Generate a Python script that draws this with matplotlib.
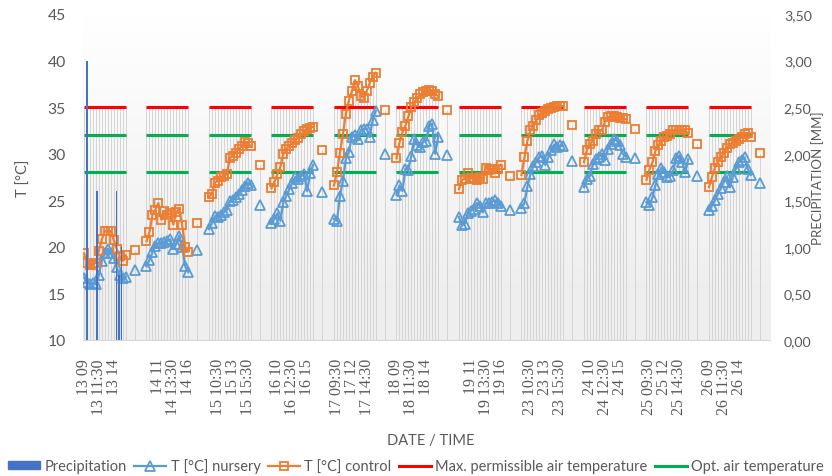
import numpy as np
import matplotlib
matplotlib.use("Agg")
import matplotlib.pyplot as plt
from matplotlib.patches import Patch
from matplotlib.lines import Line2D

plt.rcParams['font.family'] = ['Lato', 'DejaVu Sans']

# ---------------- data ----------------
days = [13, 14, 15, 16, 17, 18, 19, 23, 24, 25, 26]
start_hour = 9.0          # first reading of each day 09:00
step_hours = 0.5          # readings every 30 min
n_readings = 15           # 09:00 .. 16:00
slots_per_day = 21        # category slots per day on the axis
extra_slot = 17           # slot of the separate (unconnected) reading

nursery = [
    [16.7, 16.2, 16.0, 16.1, 16.0, 17.0, 18.5, 19.3, 19.8, 19.3, 18.8, 17.8, 17.0, 16.7, 16.8],
    [17.9, 18.6, 19.4, 20.1, 20.4, 20.4, 20.5, 20.6, 20.8, 19.8, 20.3, 21.2, 20.0, 17.9, 17.3],
    [21.9, 22.6, 23.3, 23.2, 23.4, 23.7, 24.0, 24.9, 25.0, 25.3, 25.7, 26.1, 26.5, 26.9, 26.6],
    [22.6, 23.0, 23.6, 22.8, 24.8, 25.5, 26.2, 26.9, 27.5, 27.3, 27.6, 27.8, 26.0, 27.9, 28.8],
    [23.0, 22.8, 25.5, 27.1, 29.5, 30.2, 31.8, 32.0, 31.6, 32.5, 32.6, 32.7, 31.8, 33.6, 34.6],
    [25.6, 26.6, 26.0, 28.4, 28.3, 29.8, 31.6, 30.9, 30.7, 31.3, 31.4, 33.0, 33.2, 30.0, 31.8],
    [23.2, 22.3, 22.5, 23.6, 23.9, 24.1, 24.7, 24.4, 23.7, 24.7, 24.7, 24.8, 25.0, 24.7, 24.4],
    [24.2, 24.7, 26.5, 27.8, 28.7, 29.1, 29.6, 29.8, 28.8, 29.6, 30.4, 31.0, 30.7, 30.9, 30.8],
    [26.4, 27.3, 27.6, 28.9, 29.4, 29.7, 30.0, 29.3, 30.5, 31.0, 31.6, 31.4, 30.9, 30.0, 29.7],
    [24.8, 24.5, 25.3, 26.6, 27.8, 28.5, 28.0, 27.5, 27.6, 28.2, 29.5, 29.8, 29.1, 28.0, 29.4],
    [24.0, 24.4, 25.0, 25.7, 26.3, 27.0, 27.6, 26.4, 27.5, 28.4, 29.1, 29.3, 29.6, 28.4, 27.7],
]
nursery_extra = [17.5, 19.7, 24.5, 25.9, 30.0, 29.9, 24.0, 29.2, 29.5, 27.6, 26.9]

control = [
    [19.3, 18.3, 18.1, 18.1, 18.3, 19.6, 20.8, 21.7, 21.7, 21.7, 20.7, 19.8, 19.0, 18.5, 19.1],
    [20.6, 21.6, 23.4, 24.0, 24.7, 22.9, 23.8, 23.4, 23.6, 22.4, 23.7, 24.1, 22.3, 20.0, 19.5],
    [25.4, 25.7, 26.9, 27.1, 27.5, 27.6, 27.8, 29.5, 29.8, 30.1, 30.5, 30.8, 31.3, 31.2, 30.8],
    [26.3, 27.0, 27.8, 28.6, 30.0, 30.5, 30.8, 31.2, 31.5, 31.7, 32.1, 32.4, 32.6, 32.8, 32.9],
    [26.6, 28.0, 30.1, 32.1, 34.3, 35.7, 36.7, 37.9, 37.3, 36.2, 36.0, 36.7, 37.6, 38.2, 38.7],
    [29.5, 31.2, 32.3, 33.0, 34.0, 35.0, 35.5, 36.0, 36.4, 36.6, 36.7, 36.8, 36.7, 36.4, 36.2],
    [26.2, 27.2, 27.3, 27.9, 27.4, 27.3, 27.2, 27.5, 27.3, 28.5, 28.3, 28.4, 27.9, 28.4, 28.8],
    [27.7, 29.6, 31.4, 32.5, 33.0, 33.6, 34.2, 34.4, 34.6, 34.8, 34.9, 35.0, 35.1, 35.1, 35.1],
    [29.1, 30.4, 31.0, 31.4, 32.1, 32.5, 32.5, 33.4, 33.9, 34.0, 34.0, 33.9, 33.8, 33.8, 33.7],
    [27.2, 28.3, 29.1, 30.3, 30.9, 31.4, 31.8, 31.9, 32.1, 32.5, 32.5, 32.5, 32.5, 32.5, 32.2],
    [26.4, 27.5, 28.5, 29.1, 29.6, 30.1, 30.6, 31.0, 31.2, 31.4, 31.6, 31.8, 32.1, 32.2, 31.8],
]
control_extra = [19.7, 22.6, 28.8, 30.4, 34.7, 34.7, 27.6, 33.1, 32.6, 31.0, 30.1]

max_temp = 35.0
opt_low = 28.0
opt_high = 32.0

precip_times = ['13 09:30', '13 11:10', '13 14:30', '13 14:50', '13 15:00', '13 15:20']
precip_mm = [3.0, 1.6, 1.6, 0.7, 0.7, 1.0]

# ---------------- build category series ----------------
n_cat = len(days) * slots_per_day
x = np.arange(n_cat)
ser_n = np.full(n_cat, np.nan)
ser_c = np.full(n_cat, np.nan)
ser_max = np.full(n_cat, np.nan)
ser_ol = np.full(n_cat, np.nan)
ser_oh = np.full(n_cat, np.nan)
labels = [''] * n_cat
for k, d in enumerate(days):
    base = k * slots_per_day
    for r in range(n_readings):
        ser_n[base + r] = nursery[k][r]
        ser_c[base + r] = control[k][r]
        ser_max[base + r] = max_temp
        ser_ol[base + r] = opt_low
        ser_oh[base + r] = opt_high
        t = start_hour + r * step_hours
        hh = int(t)
        mm = int(round((t - hh) * 60))
        labels[base + r] = f"{d} {hh:02d}" if mm == 0 else f"{d} {hh:02d}:{mm:02d}"
    ser_n[base + extra_slot] = nursery_extra[k]
    ser_c[base + extra_slot] = control_extra[k]

def time_to_pos(s):
    d, hm = s.split()
    h, m = hm.split(':')
    k = days.index(int(d))
    return k * slots_per_day + (int(h) + int(m) / 60 - start_hour) / step_hours

precip_pos = [time_to_pos(s) for s in precip_times]

# ---------------- figure ----------------
W, H = 832, 477
fig = plt.figure(figsize=(W / 100, H / 100), dpi=100)
L, R, T, B = 82.5, 770, 15, 341
ax = fig.add_axes([L / W, 1 - B / H, (R - L) / W, (B - T) / H])
ax.set_xlim(-0.5, n_cat - 0.5)
ax.set_ylim(10, 45)

# gradient background of plot area
grad = np.linspace(0, 1, 256).reshape(-1, 1)
top_c = np.array([1.0, 1.0, 1.0])
bot_c = np.array([0.935, 0.935, 0.935])
vals = np.clip(grad / 0.86, 0, 1)
img = top_c * (1 - vals[..., None]) + bot_c * vals[..., None]
img = img[:, 0, :][:, None, :]
ax.imshow(img, aspect='auto', extent=(-0.5, n_cat - 0.5, 10, 45), origin='upper', zorder=0)

# drop lines
stack = np.vstack([ser_n, ser_c, ser_max])
has = ~np.all(np.isnan(stack), axis=0)
tops = np.nanmax(np.where(np.isnan(stack), -np.inf, stack), axis=0)
ax.vlines(x[has], 10, tops[has], color='#D4D4D4', lw=0.7, zorder=1)

blue = '#5B9BD5'
orange = '#ED7D31'
red = '#FF0000'
green = '#00B050'
pblue = '#4472C4'

ax.plot(x, ser_max, color=red, lw=2.2, zorder=2, solid_capstyle='butt')
ax.plot(x, ser_oh, color=green, lw=2.2, zorder=2, solid_capstyle='butt')
ax.plot(x, ser_ol, color=green, lw=2.2, zorder=2, solid_capstyle='butt')
ax.plot(x, ser_n, color=blue, lw=1.6, marker='^', ms=6.5, mfc='none', mec=blue, mew=1.3, zorder=3)
ax.plot(x, ser_c, color=orange, lw=1.6, marker='s', ms=5.5, mfc='none', mec=orange, mew=1.3, zorder=4)

# axes styling
for s in ['top', 'right', 'left']:
    ax.spines[s].set_visible(False)
ax.spines['bottom'].set_color('#D9D9D9')
ax.spines['bottom'].set_linewidth(0.8)
ax.set_yticks(np.arange(10, 46, 5))
ax.set_yticklabels([f"{v}" for v in range(10, 46, 5)])
tick_pos = list(range(0, n_cat, 5))
ax.set_xticks(tick_pos)
ax.set_xticklabels([labels[i] for i in tick_pos], rotation=90, va='top', ha='center',
                   fontfamily='Liberation Serif', fontsize=11.5, color='#595959')
ax.tick_params(axis='x', length=0, pad=13)
ax.tick_params(axis='y', length=0, pad=12, labelsize=11.3, labelcolor='#595959')

ax2 = ax.twinx()
ax2.set_ylim(0, 3.5)
ax2.set_xlim(-0.5, n_cat - 0.5)
ax2.bar(precip_pos, precip_mm, width=0.45, color=pblue, zorder=5)
for s in ['top', 'right', 'left', 'bottom']:
    ax2.spines[s].set_visible(False)
ax2.set_yticks(np.arange(0, 3.51, 0.5))
ax2.set_yticklabels([f"{v:.2f}".replace('.', ',') for v in np.arange(0, 3.51, 0.5)])
ax2.tick_params(axis='y', length=0, pad=10, labelsize=10.2, labelcolor='#595959')

# titles
fig.text(24 / W, 1 - 178 / H, 'T [°C]', rotation=90, ha='center', va='center', fontsize=10.5, color='#595959')
fig.text(818 / W, 1 - 178 / H, 'PRECIPITATION [MM]', rotation=90, ha='center', va='center', fontsize=9.5, color='#595959')
fig.text(431 / W, 1 - 441 / H, 'DATE / TIME', ha='center', va='center', fontsize=10.5, color='#595959')

handles = [
    Patch(facecolor=pblue, edgecolor=pblue),
    Line2D([], [], color=blue, lw=1.6, marker='^', ms=6.5, mfc='none', mec=blue, mew=1.3),
    Line2D([], [], color=orange, lw=1.6, marker='s', ms=5.5, mfc='none', mec=orange, mew=1.3),
    Line2D([], [], color=red, lw=2.2),
    Line2D([], [], color=green, lw=2.2),
]
names = ['Precipitation', 'T [°C] nursery', 'T [°C] control',
         'Max. permissible air temperature', 'Opt. air temperature']
leg = fig.legend(handles, names, loc='center', bbox_to_anchor=(0.5, 1 - 467 / H), ncol=5,
                 frameon=False, fontsize=10.5, handlelength=2.2, handleheight=0.45,
                 handletextpad=0.3, columnspacing=0.5, borderaxespad=0, borderpad=0)
for t in leg.get_texts():
    t.set_color('#595959')

fig.savefig('out.png', dpi=100)
